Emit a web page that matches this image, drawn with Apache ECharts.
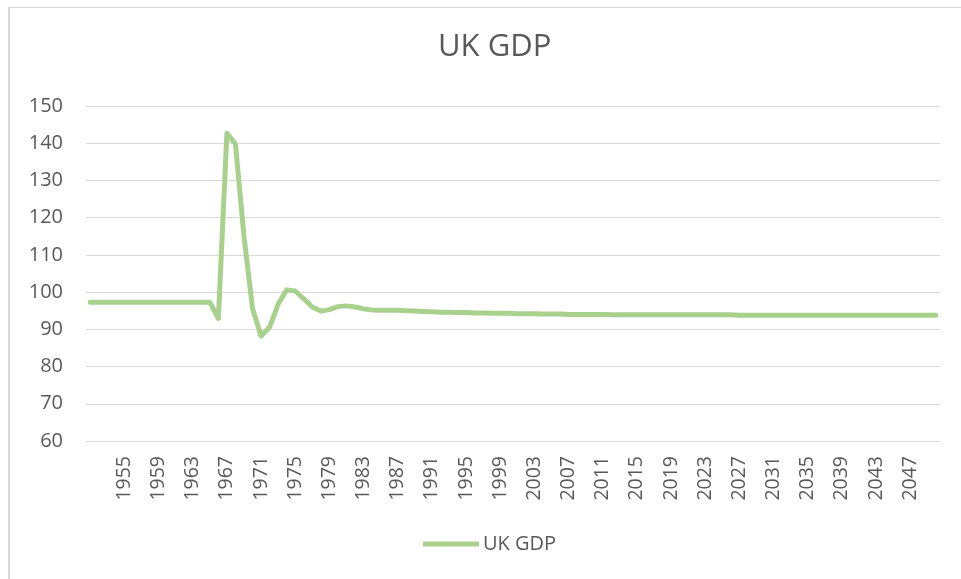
<!DOCTYPE html>
<html>
<head>
<meta charset="utf-8">
<script src="https://cdn.jsdelivr.net/npm/echarts@6/dist/echarts.min.js"></script>
<style>
html,body{margin:0;padding:0;background:#fff;}
#chart{width:961px;height:579px;}
</style>
</head>
<body>
<div id="chart"></div>
<script>
var title = 'UK GDP';
var seriesName = 'UK GDP';
var years = [
 1951,1952,1953,1954,1955,1956,1957,1958,1959,1960,
 1961,1962,1963,1964,1965,1966,1967,1968,1969,1970,
 1971,1972,1973,1974,1975,1976,1977,1978,1979,1980,
 1981,1982,1983,1984,1985,1986,1987,1988,1989,1990,
 1991,1992,1993,1994,1995,1996,1997,1998,1999,2000,
 2001,2002,2003,2004,2005,2006,2007,2008,2009,2010,
 2011,2012,2013,2014,2015,2016,2017,2018,2019,2020,
 2021,2022,2023,2024,2025,2026,2027,2028,2029,2030,
 2031,2032,2033,2034,2035,2036,2037,2038,2039,2040,
 2041,2042,2043,2044,2045,2046,2047,2048,2049,2050
];
var gdp = [
 97.3,97.3,97.3,97.3,97.3,97.3,97.3,97.3,97.3,97.3,
 97.3,97.3,97.3,97.3,97.3,92.9,142.7,139.8,115.0,95.6,
 88.2,90.6,96.8,100.6,100.3,98.2,96.0,94.9,95.3,96.1,
 96.3,96.0,95.5,95.2,95.1,95.1,95.1,95.0,94.9,94.8,
 94.7,94.6,94.6,94.5,94.5,94.4,94.4,94.3,94.3,94.3,
 94.2,94.2,94.2,94.1,94.1,94.1,94.0,94.0,94.0,94.0,
 94.0,93.9,93.9,93.9,93.9,93.9,93.9,93.9,93.9,93.9,
 93.9,93.9,93.9,93.9,93.9,93.9,93.8,93.8,93.8,93.8,
 93.8,93.8,93.8,93.8,93.8,93.8,93.8,93.8,93.8,93.8,
 93.8,93.8,93.8,93.8,93.8,93.8,93.8,93.8,93.8,93.8
];
var tickLabels = ['1955','1959','1963','1967','1971','1975','1979','1983','1987','1991','1995','1999','2003','2007','2011','2015','2019','2023','2027','2031','2035','2039','2043','2047'];
var yTicks = [60,70,80,90,100,110,120,130,140,150];

var chart = echarts.init(document.getElementById('chart'), null, {renderer:'canvas'});
var font = 'Open Sans, Lato, sans-serif';
chart.setOption({
  animation:false,
  backgroundColor:'#fff',
  title:{text:title,left:433,top:27,textStyle:{fontFamily:font,fontSize:31,fontWeight:'normal',color:'#595959'}},
  graphic:[
    {type:'rect',shape:{x:9,y:7.5,width:1000,height:1000},style:{fill:'none',stroke:'#D9D9D9',lineWidth:1},silent:true},
    {type:'line',shape:{x1:9,y1:7,x2:9,y2:579},style:{stroke:'#D9D9D9',lineWidth:2},silent:true}
  ],
  grid:{left:86,right:21,top:106,bottom:138,containLabel:false},
  legend:{bottom:20,left:418,itemWidth:56,itemHeight:5,itemGap:10,icon:'roundRect',
    textStyle:{fontFamily:font,fontSize:20,color:'#595959',padding:[0,0,0,-1]},data:[seriesName]},
  xAxis:{type:'category',data:years.map(String),boundaryGap:true,
    axisLine:{lineStyle:{color:'#D9D9D9'}},axisTick:{show:false},
    axisLabel:{interval:0,rotate:90,fontFamily:font,fontSize:19.5,color:'#595959',margin:15,
      formatter:function(v){return tickLabels.indexOf(v)>=0?v:'';}}},
  yAxis:{type:'value',min:yTicks[0],max:yTicks[yTicks.length-1],interval:10,
    axisLine:{show:false},axisTick:{show:false},
    splitLine:{lineStyle:{color:'#D9D9D9',width:1}},
    axisLabel:{fontFamily:font,fontSize:20,color:'#595959',margin:23}},
  series:[{name:seriesName,type:'line',data:gdp,showSymbol:false,symbol:'none',
    lineStyle:{color:'#A9D18E',width:5,cap:'round',join:'round'},itemStyle:{color:'#A9D18E'}}]
});
</script>
</body>
</html>
